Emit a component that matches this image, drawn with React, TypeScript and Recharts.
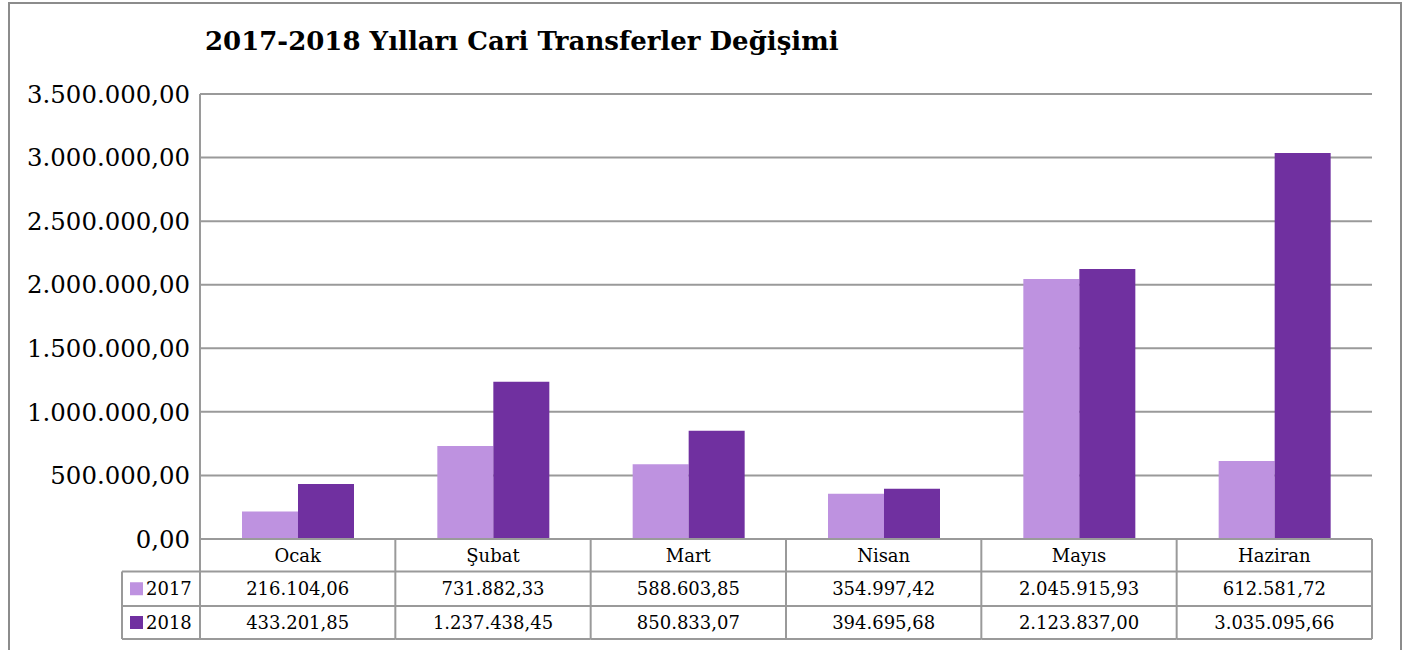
import React from "react";
import { BarChart, Bar, XAxis, YAxis, CartesianGrid } from "recharts";

const categories = ["Ocak", "Şubat", "Mart", "Nisan", "Mayıs", "Haziran"];
const series2017 = [216104.06, 731882.33, 588603.85, 354997.42, 2045915.93, 612581.72];
const series2018 = [433201.85, 1237438.45, 850833.07, 394695.68, 2123837.0, 3035095.66];
const yTicks = [0, 500000, 1000000, 1500000, 2000000, 2500000, 3000000, 3500000];
const seriesNames = ["2017", "2018"];

const COLORS = ["#BE92E0", "#7030A0"];
const GRID = "#9a9a9a";
const FONT = "'DejaVu Serif', serif";

const data = categories.map((c, i) => ({ name: c, y2017: series2017[i], y2018: series2018[i] }));

const fmt = (v: number) =>
  v
    .toFixed(2)
    .replace(".", ",")
    .replace(/\B(?=(\d{3})+(?!\d))/g, ".");

const CHART_W = 1421;
const CHART_H = 650;
const PLOT_LEFT = 200;
const PLOT_RIGHT = 1372;
const BAND = (PLOT_RIGHT - PLOT_LEFT) / categories.length;
const ROWS = [0, 32.5, 67, 100];

const TableTick = (props: any) => {
  const { x, y, payload, index } = props;
  const left = x - BAND / 2;
  const right = x + BAND / 2;
  const i = index ?? categories.indexOf(payload.value);
  const vals = [series2017[i], series2018[i]];
  return (
    <g>
      <line x1={right} x2={right} y1={y + ROWS[0]} y2={y + ROWS[3]} stroke={GRID} strokeWidth={2} />
      {i === 0 && <line x1={left} x2={left} y1={y + ROWS[0]} y2={y + ROWS[3]} stroke={GRID} strokeWidth={2} />}
      <line x1={left} x2={right} y1={y + ROWS[1]} y2={y + ROWS[1]} stroke={GRID} strokeWidth={2} />
      <line x1={left} x2={right} y1={y + ROWS[2]} y2={y + ROWS[2]} stroke={GRID} strokeWidth={2} />
      <line x1={left} x2={right} y1={y + ROWS[3]} y2={y + ROWS[3]} stroke={GRID} strokeWidth={2} />
      <text x={x} y={y + 16} textAnchor="middle" dominantBaseline="central" fontFamily={FONT} fontSize={18} fill="#000">
        {payload.value}
      </text>
      {vals.map((v, r) => (
        <text
          key={r}
          x={x}
          y={y + (ROWS[r + 1] + ROWS[r + 2]) / 2}
          textAnchor="middle"
          dominantBaseline="central"
          fontFamily={FONT}
          fontSize={18}
          fill="#000"
        >
          {fmt(v)}
        </text>
      ))}
      {i === 0 && (
        <g>
          <line x1={left - 78} x2={left - 78} y1={y + ROWS[1]} y2={y + ROWS[3]} stroke={GRID} strokeWidth={2} />
          <line x1={left - 78} x2={left} y1={y + ROWS[1]} y2={y + ROWS[1]} stroke={GRID} strokeWidth={2} />
          <line x1={left - 78} x2={left} y1={y + ROWS[2]} y2={y + ROWS[2]} stroke={GRID} strokeWidth={2} />
          <line x1={left - 78} x2={left} y1={y + ROWS[3]} y2={y + ROWS[3]} stroke={GRID} strokeWidth={2} />
          {seriesNames.map((s, r) => {
            const cy = y + (ROWS[r + 1] + ROWS[r + 2]) / 2;
            return (
              <g key={s}>
                <rect x={left - 70} y={cy - 6.5} width={13} height={13} fill={COLORS[r]} />
                <text x={left - 54} y={cy} dominantBaseline="central" fontFamily={FONT} fontSize={18} fill="#000">
                  {s}
                </text>
              </g>
            );
          })}
        </g>
      )}
    </g>
  );
};

export default function App() {
  return (
    <div style={{ position: "absolute", left: 0, top: 0, width: CHART_W, height: CHART_H, background: "#fff" }}>
      <svg style={{ position: "absolute", left: 0, top: 0 }} width={CHART_W} height={CHART_H}>
        <path d={`M9 ${CHART_H} L9 3 L1401 3 L1401 ${CHART_H}`} fill="none" stroke="#8c8c8c" strokeWidth={2} />
        <text x={205} y={50} fontFamily={FONT} fontWeight="bold" fontSize={26} fill="#000">
          2017-2018 Yılları Cari Transferler Değişimi
        </text>
      </svg>
      <div style={{ position: "absolute", left: 0, top: 0 }}>
        <BarChart
          width={CHART_W}
          height={CHART_H}
          data={data}
          margin={{ top: 94, right: CHART_W - PLOT_RIGHT, bottom: 12, left: 0 }}
          barCategoryGap="21.5%"
          barGap={0}
        >
          <CartesianGrid vertical={false} stroke={GRID} strokeWidth={2} />
          <YAxis
            width={PLOT_LEFT}
            domain={[0, 3500000]}
            ticks={yTicks}
            tickFormatter={fmt}
            tickLine={false}
            tickSize={0}
            tickMargin={10}
            axisLine={{ stroke: GRID, strokeWidth: 2 }}
            tick={{ fontFamily: FONT, fontSize: 24.4, fill: "#000" }}
            interval={0}
          />
          <XAxis
            dataKey="name"
            height={99}
            tickLine={false}
            tickSize={0}
            tickMargin={0}
            axisLine={{ stroke: GRID, strokeWidth: 2 }}
            tick={<TableTick />}
            interval={0}
          />
          <Bar dataKey="y2017" fill={COLORS[0]} isAnimationActive={false} />
          <Bar dataKey="y2018" fill={COLORS[1]} isAnimationActive={false} />
        </BarChart>
      </div>
    </div>
  );
}
